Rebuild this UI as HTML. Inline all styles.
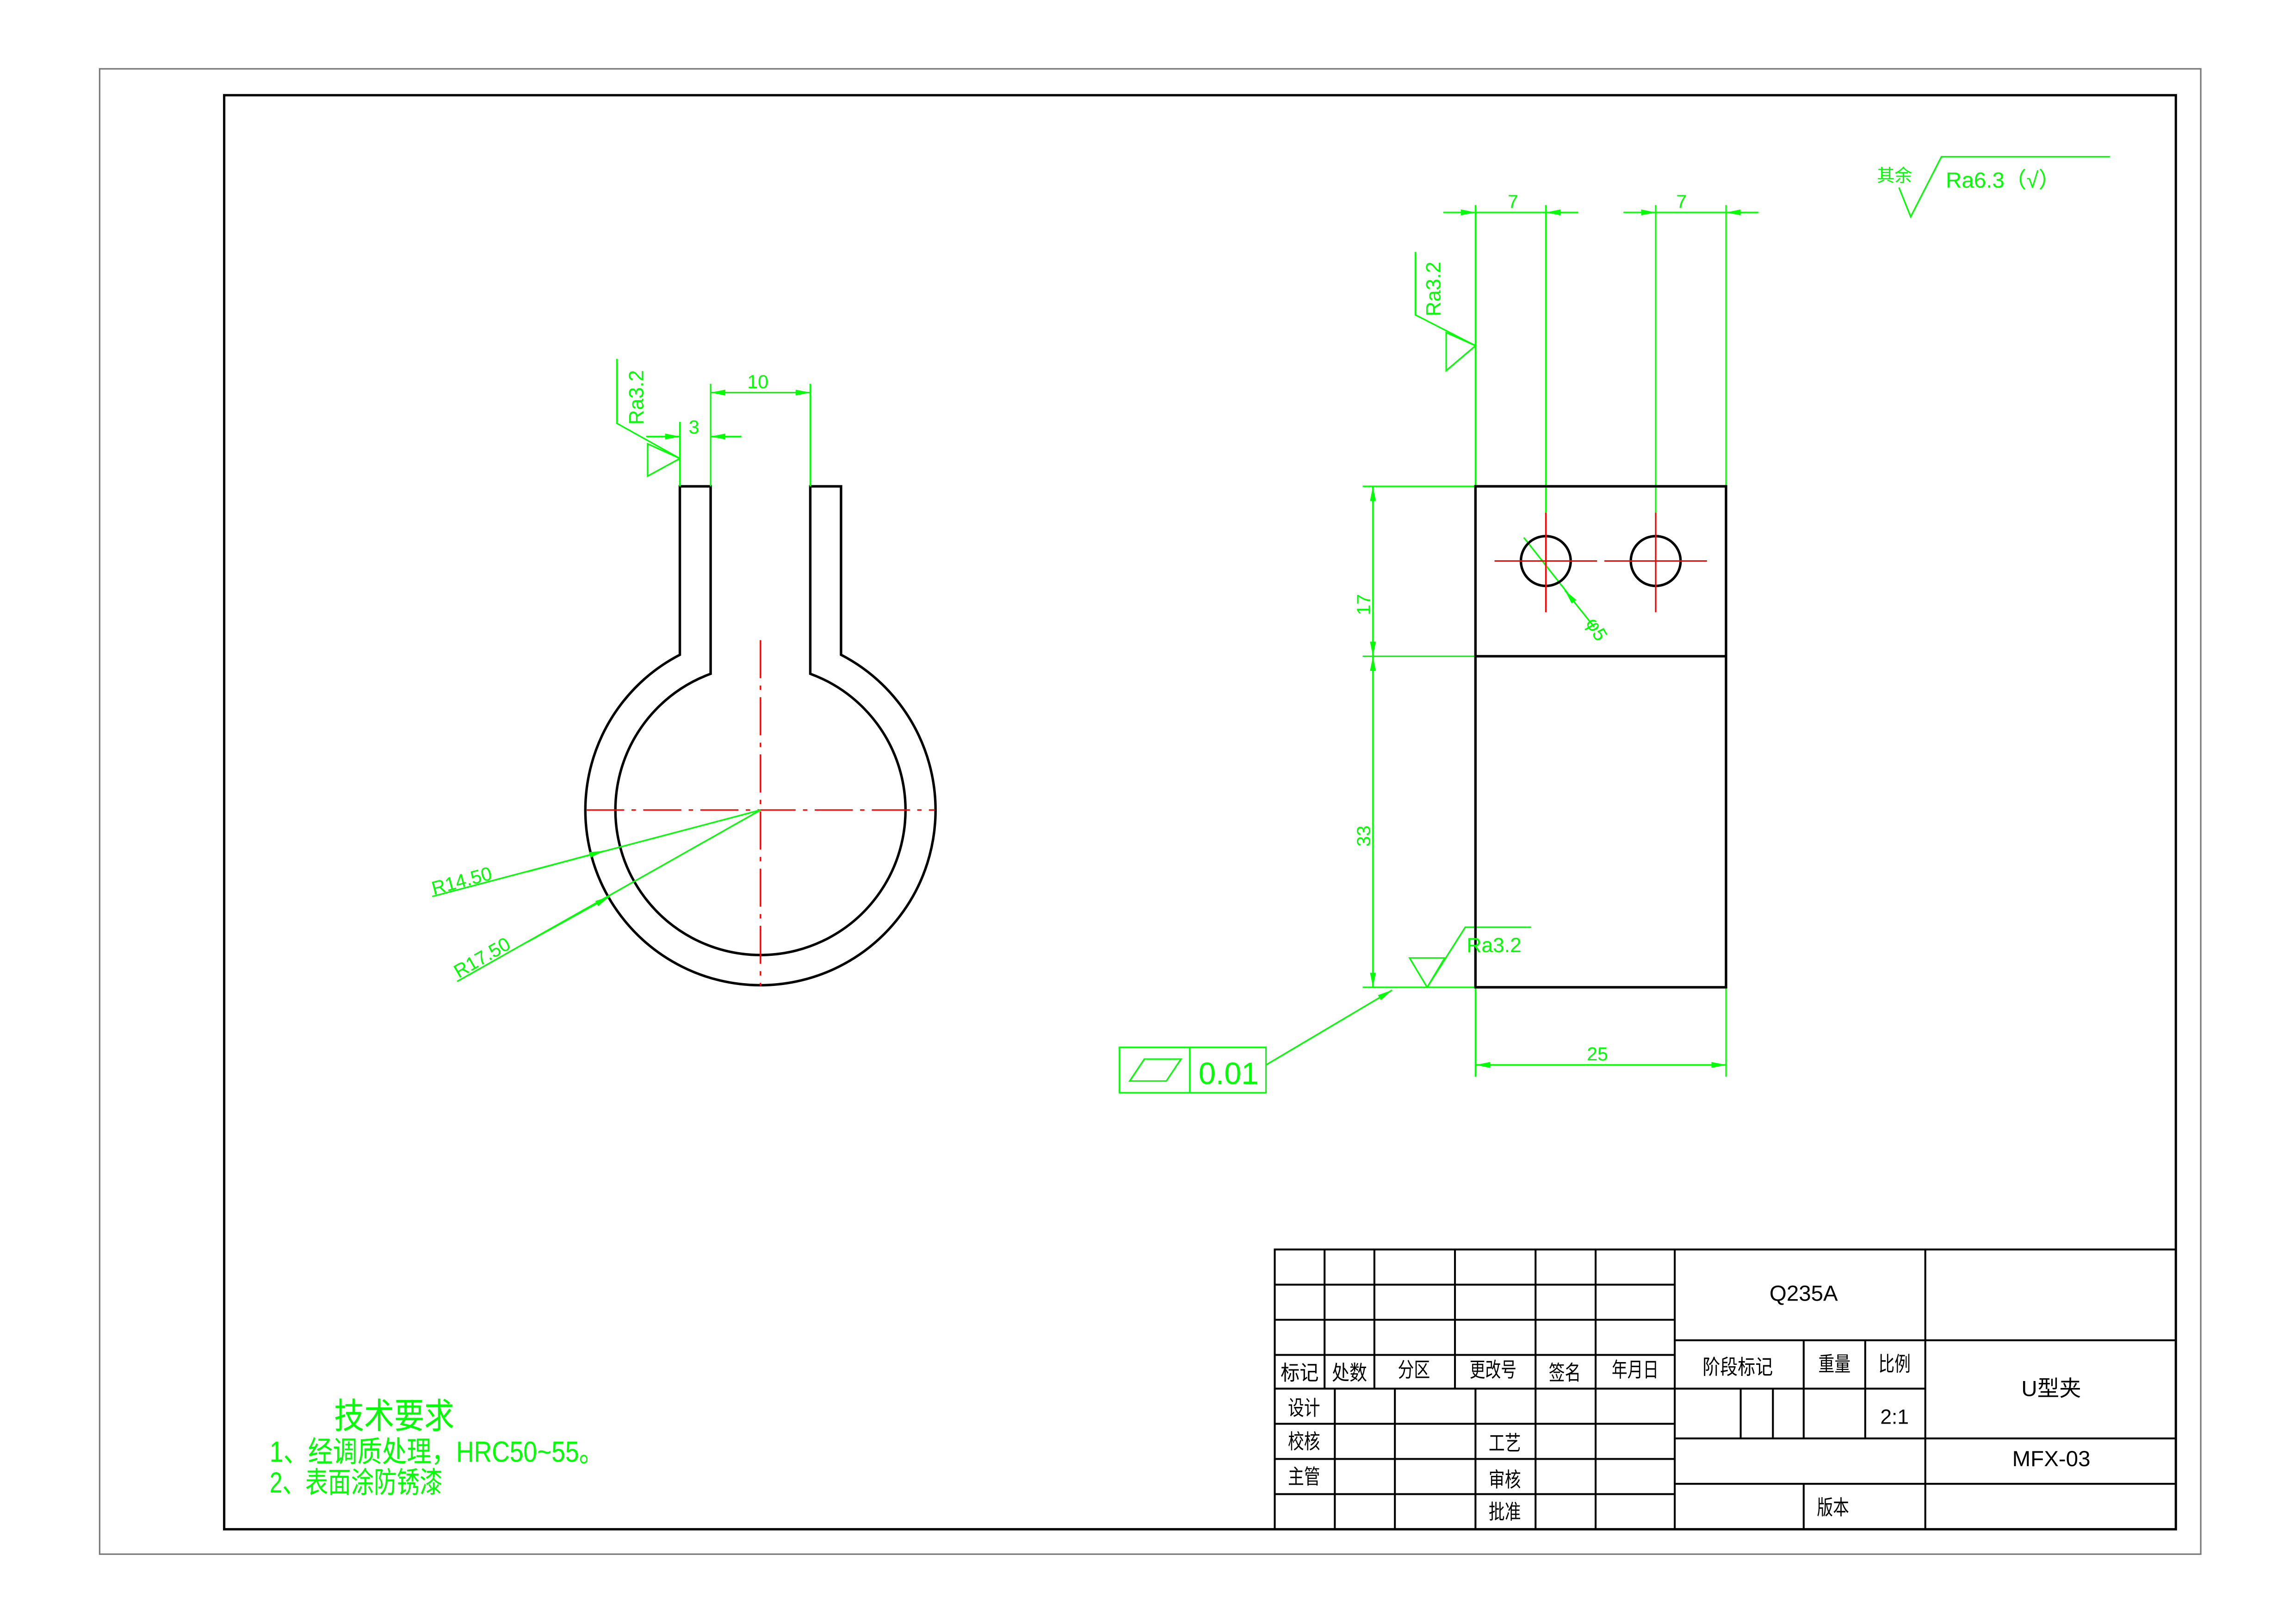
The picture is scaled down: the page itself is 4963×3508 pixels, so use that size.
<!DOCTYPE html>
<html><head><meta charset="utf-8"><style>
html,body{margin:0;padding:0;background:#fff}
svg{display:block}
text{font-family:"Liberation Sans Narrow","Liberation Sans","Noto Sans CJK SC",sans-serif}
</style></head><body>
<svg width="4963" height="3508" viewBox="0 0 1567 1108" preserveAspectRatio="none" xmlns="http://www.w3.org/2000/svg">
<defs>
<marker id="a" viewBox="0 0 10 4" refX="10" refY="2" markerWidth="10" markerHeight="4" markerUnits="userSpaceOnUse" orient="auto-start-reverse"><path d="M0,0L10,2L0,4z" fill="#00ff00"/></marker>
</defs>
<rect width="1567" height="1108" fill="#fff"/>
<rect x="68" y="47" width="1434" height="1014" fill="none" stroke="#777" stroke-width="1"/>
<rect x="153" y="65" width="1332" height="979" fill="none" stroke="#000" stroke-width="1.6"/>

<!-- left view -->
<g stroke="#000" stroke-width="1.7" fill="none">
<path d="M464,332H485V460A99,99 0 1 0 553,460V332H574V447A119.5,119.5 0 1 1 464,447Z"/>
</g>
<g stroke="#ff0000" stroke-width="1" stroke-dasharray="26,5,3,5">
<line x1="400" y1="553" x2="638" y2="553"/>
<line x1="519" y1="437" x2="519" y2="673"/>
</g>
<g stroke="#00ff00" stroke-width="1" fill="none">
<polyline points="421,245 421,289 464,313"/>
<polyline points="464,313 442,303 442,325 464,313"/>
<line x1="464" y1="288" x2="464" y2="332"/>
<line x1="485" y1="262" x2="485" y2="332"/>
<line x1="553" y1="262" x2="553" y2="332"/>
<line x1="441" y1="298" x2="464" y2="298" marker-end="url(#a)"/>
<line x1="506" y1="298" x2="485" y2="298" marker-end="url(#a)"/>
<line x1="485" y1="268" x2="553" y2="268" marker-start="url(#a)" marker-end="url(#a)"/>
<line x1="519" y1="553" x2="295" y2="612"/>
<line x1="360" y1="595" x2="412" y2="581" marker-end="url(#a)"/>
<line x1="519" y1="553" x2="312" y2="670"/>
<line x1="360" y1="643" x2="416" y2="612" marker-end="url(#a)"/>
</g>
<g fill="#00ff00" font-size="14">
<text x="439" y="290" transform="rotate(-90 439 290)">Ra3.2</text>
<text x="470" y="296" font-size="13">3</text>
<text x="510" y="265" font-size="13">10</text>
<text x="296" y="611" transform="rotate(-15 296 611)" font-size="13">R14.50</text>
<text x="313" y="668" transform="rotate(-30 313 668)" font-size="13">R17.50</text>
</g>

<!-- right view -->
<g stroke="#00ff00" stroke-width="1" fill="none">
<line x1="1007" y1="140" x2="1007" y2="332"/>
<line x1="1055" y1="140" x2="1055" y2="350"/>
<line x1="1130" y1="140" x2="1130" y2="350"/>
<line x1="1178" y1="140" x2="1178" y2="332"/>
<line x1="985" y1="145" x2="1007" y2="145" marker-end="url(#a)"/>
<line x1="1007" y1="145" x2="1077" y2="145"/>
<line x1="1077" y1="145" x2="1055" y2="145" marker-end="url(#a)"/>
<line x1="1108" y1="145" x2="1130" y2="145" marker-end="url(#a)"/>
<line x1="1130" y1="145" x2="1200" y2="145"/>
<line x1="1200" y1="145" x2="1178" y2="145" marker-end="url(#a)"/>
<polyline points="966,172 966,215 1007,236"/>
<polyline points="1007,236 987,227 987,253 1007,236"/>
<line x1="930" y1="332" x2="1007" y2="332"/>
<line x1="930" y1="448" x2="1007" y2="448"/>
<line x1="930" y1="674" x2="1007" y2="674"/>
<line x1="937" y1="332" x2="937" y2="448" marker-start="url(#a)" marker-end="url(#a)"/>
<line x1="937" y1="448" x2="937" y2="674" marker-start="url(#a)" marker-end="url(#a)"/>
<polyline points="974,674 962,654 986,654 974,674 1000,633 1045,633"/>
<line x1="1007" y1="674" x2="1007" y2="735"/>
<line x1="1178" y1="674" x2="1178" y2="735"/>
<line x1="1007" y1="727" x2="1178" y2="727" marker-start="url(#a)" marker-end="url(#a)"/>
<line x1="1040" y1="367" x2="1070" y2="405"/>
<line x1="1088" y1="428" x2="1068" y2="403" marker-end="url(#a)"/>
<line x1="864" y1="727" x2="950" y2="676" marker-end="url(#a)"/>
<rect x="764" y="715" width="100" height="31"/>
<line x1="812" y1="715" x2="812" y2="746"/>
<polygon points="771,738 781,723 806,723 796,738"/>
<polyline points="1296,128 1304,148 1325,107 1440,107"/>
</g>
<g stroke="#000" stroke-width="1.7" fill="none">
<rect x="1007" y="332" width="171" height="342"/>
<line x1="1007" y1="448" x2="1178" y2="448"/>
<circle cx="1055" cy="383" r="17"/>
<circle cx="1130" cy="383" r="17"/>
</g>
<g stroke="#ff0000" stroke-width="1">
<line x1="1020" y1="383" x2="1090" y2="383"/>
<line x1="1055" y1="350" x2="1055" y2="418"/>
<line x1="1095" y1="383" x2="1165" y2="383"/>
<line x1="1130" y1="350" x2="1130" y2="418"/>
</g>
<g fill="#00ff00" font-size="14">
<text x="1029" y="142" font-size="13">7</text>
<text x="1144" y="142" font-size="13">7</text>
<text x="983" y="216" transform="rotate(-90 983 216)">Ra3.2</text>
<text x="935" y="420" transform="rotate(-90 935 420)" font-size="13">17</text>
<text x="935" y="578" transform="rotate(-90 935 578)" font-size="13">33</text>
<text x="1001" y="650">Ra3.2</text>
<text x="1083" y="724" font-size="13">25</text>
<text x="1082" y="425" transform="rotate(60 1082 425)" font-size="13">φ5</text>
<text x="818" y="740" font-size="21">0.01</text>
<text x="1281" y="124" font-size="12">其余</text>
<text x="1328" y="128" font-size="15">Ra6.3（√）</text>
</g>

<!-- tech req -->
<g fill="#00ff00">
<text x="228" y="975" font-size="24" textLength="82" lengthAdjust="spacingAndGlyphs">技术要求</text>
<text x="184" y="998" font-size="20" textLength="228" lengthAdjust="spacingAndGlyphs">1、经调质处理，HRC50~55。</text>
<text x="184" y="1019" font-size="20" textLength="118" lengthAdjust="spacingAndGlyphs">2、表面涂防锈漆</text>
</g>

<!-- title block -->
<g stroke="#000" stroke-width="1.3" fill="none">
<rect x="870" y="853" width="615" height="191"/>
<line x1="870" y1="877" x2="1143" y2="877"/>
<line x1="870" y1="901" x2="1143" y2="901"/>
<line x1="870" y1="925" x2="1143" y2="925"/>
<line x1="870" y1="948" x2="1314" y2="948"/>
<line x1="870" y1="972" x2="1143" y2="972"/>
<line x1="870" y1="996" x2="1143" y2="996"/>
<line x1="870" y1="1020" x2="1143" y2="1020"/>
<line x1="904" y1="853" x2="904" y2="948"/>
<line x1="938" y1="853" x2="938" y2="948"/>
<line x1="993" y1="853" x2="993" y2="948"/>
<line x1="911" y1="948" x2="911" y2="1044"/>
<line x1="952" y1="948" x2="952" y2="1044"/>
<line x1="1007" y1="948" x2="1007" y2="1044"/>
<line x1="1048" y1="853" x2="1048" y2="1044"/>
<line x1="1089" y1="853" x2="1089" y2="1044"/>
<line x1="1143" y1="853" x2="1143" y2="1044"/>
<line x1="1314" y1="853" x2="1314" y2="1044"/>
<line x1="1143" y1="915" x2="1485" y2="915"/>
<line x1="1143" y1="982" x2="1485" y2="982"/>
<line x1="1143" y1="1013" x2="1485" y2="1013"/>
<line x1="1231" y1="915" x2="1231" y2="982"/>
<line x1="1273" y1="915" x2="1273" y2="982"/>
<line x1="1188" y1="948" x2="1188" y2="982"/>
<line x1="1210" y1="948" x2="1210" y2="982"/>
<line x1="1231" y1="1013" x2="1231" y2="1044"/>
</g>
<g fill="#000" font-size="14" text-anchor="middle">
<text x="887" y="942" textLength="26" lengthAdjust="spacingAndGlyphs">标记</text>
<text x="921" y="942" textLength="24" lengthAdjust="spacingAndGlyphs">处数</text>
<text x="965" y="940" textLength="22" lengthAdjust="spacingAndGlyphs">分区</text>
<text x="1019" y="940" textLength="32" lengthAdjust="spacingAndGlyphs">更改号</text>
<text x="1068" y="942" textLength="22" lengthAdjust="spacingAndGlyphs">签名</text>
<text x="1116" y="940" textLength="32" lengthAdjust="spacingAndGlyphs">年月日</text>
<text x="890" y="966" textLength="22" lengthAdjust="spacingAndGlyphs">设计</text>
<text x="890" y="989" textLength="22" lengthAdjust="spacingAndGlyphs">校核</text>
<text x="890" y="1013" textLength="22" lengthAdjust="spacingAndGlyphs">主管</text>
<text x="1027" y="990" textLength="22" lengthAdjust="spacingAndGlyphs">工艺</text>
<text x="1027" y="1015" textLength="22" lengthAdjust="spacingAndGlyphs">审核</text>
<text x="1027" y="1037" textLength="22" lengthAdjust="spacingAndGlyphs">批准</text>
<text x="1231" y="888" font-size="15">Q235A</text>
<text x="1186" y="938" textLength="48" lengthAdjust="spacingAndGlyphs">阶段标记</text>
<text x="1252" y="936" textLength="22" lengthAdjust="spacingAndGlyphs">重量</text>
<text x="1293" y="936" textLength="22" lengthAdjust="spacingAndGlyphs">比例</text>
<text x="1293" y="972">2:1</text>
<text x="1400" y="953" font-size="15">U型夹</text>
<text x="1400" y="1001" font-size="15">MFX-03</text>
<text x="1251" y="1034" textLength="22" lengthAdjust="spacingAndGlyphs">版本</text>
</g>
</svg>
</body></html>
